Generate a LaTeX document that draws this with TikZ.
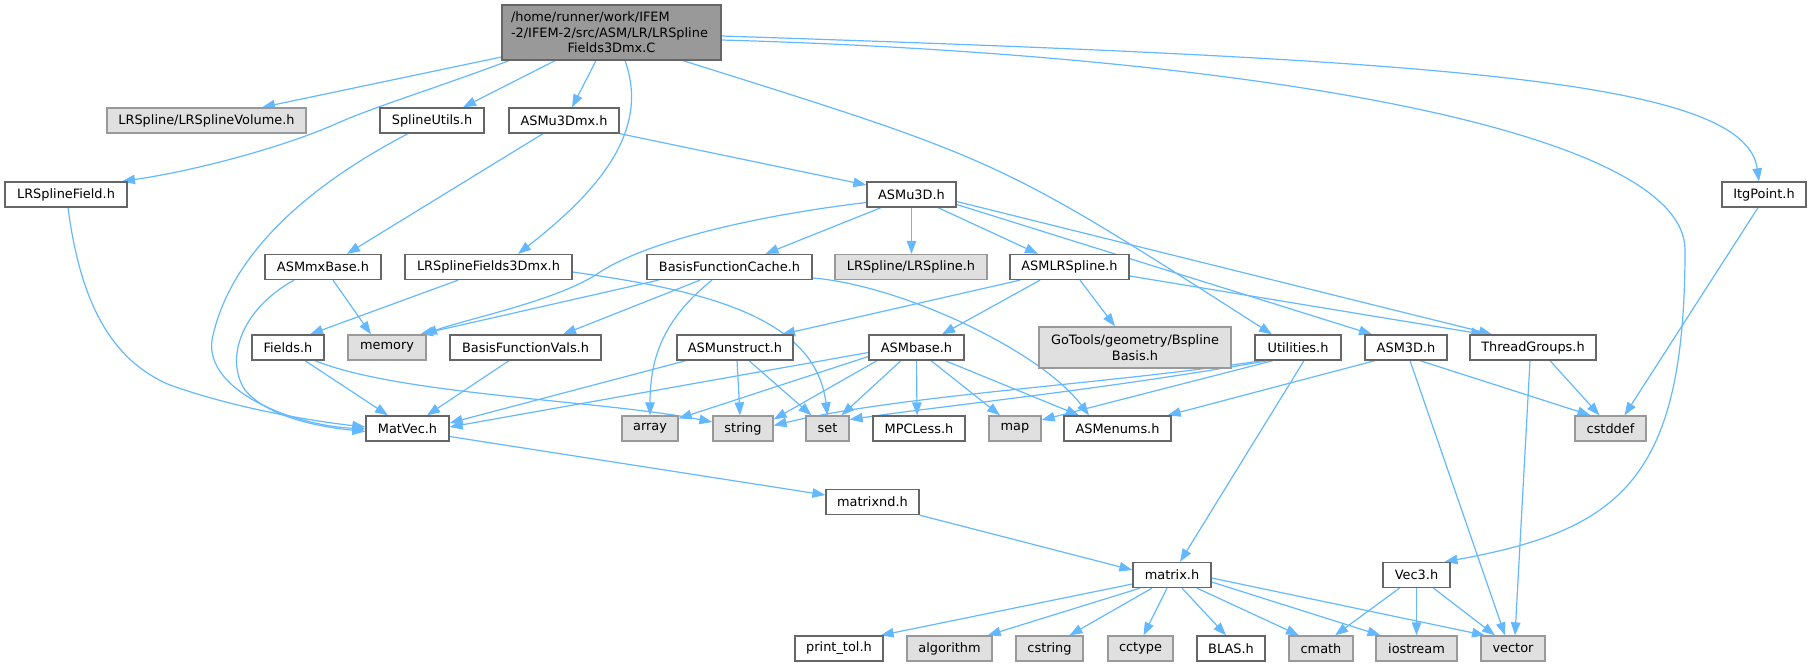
\documentclass[tikz,border=0pt]{standalone}
\usepackage{fontspec}
\setmainfont{DejaVu Sans}
\usetikzlibrary{arrows.meta,backgrounds}
\definecolor{edgec}{HTML}{63B8FF}
\definecolor{bord}{HTML}{666666}
\definecolor{extb}{HTML}{999999}
\definecolor{extf}{HTML}{E0E0E0}
\definecolor{mainf}{HTML}{999999}
\begin{document}
\begin{tikzpicture}[x=1pt,y=-1pt,
  box/.style={draw=bord, fill=white, line width=1.3pt, inner sep=0pt, minimum height=25pt,
    font=\fontsize{12.9}{15.5}\selectfont, text=black},
  ext/.style={box, draw=extb, fill=extf},
  edge/.style={draw=edgec, line width=1.2pt, -{Triangle[length=13pt,width=9.5pt]}}]
\useasboundingbox (0,0) rectangle (1812,667);

\node[box, fill=mainf, minimum width=219pt, minimum height=55pt, text width=201pt, align=left] (main) at (611.5,32.5)
  {/home/runner/work/IFEM\\-2/IFEM-2/src/ASM/LR/LRSpline\\\makebox[201pt]{Fields3Dmx.C}};
\node[ext, minimum width=199pt] (LRSV) at (206.5,120.5) {LRSpline/LRSplineVolume.h};
\node[box, minimum width=104pt] (SU) at (432,120.5) {SplineUtils.h};
\node[box, minimum width=110pt] (ASMu3Dmx) at (564,120.5) {ASMu3Dmx.h};
\node[box, minimum width=122pt] (LRSF) at (66,194.5) {LRSplineField.h};
\node[box, minimum width=89pt] (ASMu3D) at (911.5,194.5) {ASMu3D.h};
\node[box, minimum width=84pt] (Itg) at (1764,194.5) {ItgPoint.h};
\node[box, minimum width=116pt] (mxB) at (323,267) {ASMmxBase.h};
\node[box, minimum width=167pt] (LRSF3) at (488.5,267) {LRSplineFields3Dmx.h};
\node[box, minimum width=165pt] (BFC) at (729.5,267) {BasisFunctionCache.h};
\node[ext, minimum width=152pt] (LRS) at (911,267) {LRSpline/LRSpline.h};
\node[box, minimum width=119pt] (ASMLR) at (1069.5,267) {ASMLRSpline.h};
\node[box, minimum width=72pt] (Fields) at (288,347.5) {Fields.h};
\node[ext, minimum width=78pt] (memory) at (387,347.5) {memory};
\node[box, minimum width=151pt] (BFV) at (525.5,347.5) {BasisFunctionVals.h};
\node[box, minimum width=116pt] (unstr) at (735,347.5) {ASMunstruct.h};
\node[box, minimum width=95pt] (base) at (916.5,347.5) {ASMbase.h};
\node[ext, minimum width=192pt, minimum height=41pt, align=center] (GoT) at (1135,347.5) {GoTools/geometry/Bspline\\Basis.h};
\node[box, minimum width=86pt] (Util) at (1298,347.5) {Utilities.h};
\node[box, minimum width=82pt] (ASM3D) at (1406,347.5) {ASM3D.h};
\node[box, minimum width=126pt] (TG) at (1533,347.5) {ThreadGroups.h};
\node[box, minimum width=83pt] (MatVec) at (407.5,428.5) {MatVec.h};
\node[ext, minimum width=56pt] (array) at (650,428.5) {array};
\node[ext, minimum width=60pt] (string) at (743,428.5) {string};
\node[ext, minimum width=43pt] (set) at (827.5,428.5) {set};
\node[box, minimum width=92pt] (MPC) at (919,428.5) {MPCLess.h};
\node[ext, minimum width=52pt] (map) at (1015,428.5) {map};
\node[box, minimum width=107pt] (enums) at (1117.5,428.5) {ASMenums.h};
\node[ext, minimum width=71pt] (cstddef) at (1610.5,428.5) {cstddef};
\node[box, minimum width=93pt] (mnd) at (872.5,502) {matrixnd.h};
\node[box, minimum width=78pt] (matrix) at (1172,575) {matrix.h};
\node[box, minimum width=67pt] (Vec3) at (1416.5,575) {Vec3.h};
\node[box, minimum width=88pt] (ptol) at (839,648.5) {print\_tol.h};
\node[ext, minimum width=85pt] (algo) at (949.5,648.5) {algorithm};
\node[ext, minimum width=67pt] (cstring) at (1049.5,648.5) {cstring};
\node[ext, minimum width=65pt] (cctype) at (1140.5,648.5) {cctype};
\node[box, minimum width=68pt] (BLAS) at (1231,648.5) {BLAS.h};
\node[ext, minimum width=64pt] (cmath) at (1321,648.5) {cmath};
\node[ext, minimum width=81pt] (iostream) at (1416.5,648.5) {iostream};
\node[ext, minimum width=64pt] (vector) at (1513,648.5) {vector};

\begin{scope}[on background layer]
\draw[edge] ([yshift=-24.5pt]main.west) -- ([xshift=55.5pt]LRSV.north);
\draw[edge] ([xshift=-102.5pt]main.south) .. controls (430,90) and (380,105) .. (340,122) .. controls (290,145) and (200,170) .. ([xshift=56pt]LRSF.north);
\draw[edge] ([xshift=-56.5pt]main.south) -- ([xshift=31pt]SU.north);
\draw[edge] ([xshift=-15.5pt]main.south) -- ([xshift=8pt]ASMu3Dmx.north);
\draw[edge] ([xshift=13.5pt]main.south) .. controls (650,130) and (600,190) .. ([xshift=29.5pt]LRSF3.north);
\draw[edge] ([xshift=71.5pt]main.south) .. controls (1000,160) .. ([xshift=-26pt]Util.north);
\draw[edge] ([yshift=-7.5pt]main.east) .. controls (1250,55) and (1685,130) .. (1685,250) .. controls (1685,480) and (1620,530) .. ([xshift=28pt]Vec3.north);
\draw[edge] ([yshift=-3.5pt]main.east) .. controls (1450,60) and (1745,80) .. ([xshift=-5pt]Itg.north);

\draw[edge] ([xshift=-24pt]SU.south) .. controls (300,190) and (228,260) .. (212,340) .. controls (205,390) and (290,425) .. ([yshift=-0.5pt]MatVec.west);
\draw[edge] ([xshift=2pt]LRSF.south) .. controls (80,300) and (110,360) .. (170,385) .. controls (240,410) and (320,422) .. ([yshift=1.5pt]MatVec.west);
\draw[edge] ([xshift=-29pt]mxB.south) .. controls (240,310) and (225,360) .. (245,390) .. controls (270,420) and (330,428) .. ([yshift=-3pt]MatVec.west);

\draw[edge] ([xshift=-21pt]ASMu3Dmx.south) -- ([xshift=24pt]mxB.north);
\draw[edge] (ASMu3Dmx.south east) -- ([yshift=9.5pt]ASMu3D.west);
\draw[edge] ([xshift=10pt]mxB.south) -- ([xshift=-16pt]memory.north);
\draw[edge] ([xshift=-30.5pt]LRSF3.south) -- ([xshift=22pt]Fields.north);
\draw[edge] ([yshift=-5pt]LRSF3.east) .. controls (700,290) and (815,315) .. (set.north);
\draw[edge] ([xshift=-71pt]BFC.south) -- ([xshift=33pt]memory.north);
\draw[edge] ([yshift=-8pt]ASMu3D.west) .. controls (760,215) and (650,240) .. (600,272) .. controls (560,300) and (470,318) .. ([xshift=37pt]memory.north);
\draw[edge] ([xshift=-30.5pt]ASMu3D.south) -- ([xshift=36pt]BFC.north);
\draw[edge] (ASMu3D.south) -- (ASMu3D.south |- LRS.north);
\draw[edge] ([xshift=26.5pt]ASMu3D.south) -- ([xshift=-31.5pt]ASMLR.north);
\draw[edge] ([yshift=-10pt]ASMu3D.east) -- ([xshift=-34pt]ASM3D.north);
\draw[edge] ([yshift=-7pt]ASMu3D.east) -- ([xshift=-41pt]TG.north);
\draw[edge] ([yshift=-9pt]ASMLR.east) -- ([xshift=-49pt]TG.north);
\draw[edge] ([xshift=10.5pt]ASMLR.south) -- ([xshift=-20pt]GoT.north);
\draw[edge] ([xshift=-49.5pt]ASMLR.south) -- ([xshift=47pt]unstr.north);
\draw[edge] ([xshift=-29.5pt]ASMLR.south) -- ([xshift=25.5pt]base.north);
\draw[edge] ([xshift=-29.5pt]BFC.south) -- ([xshift=37.5pt]BFV.north);
\draw[edge] ([xshift=-17.5pt]BFC.south) .. controls (662,320) and (650,360) .. (array.north);
\draw[edge] ([yshift=-11pt]BFC.east) .. controls (900,285) and (1040,350) .. ([xshift=-28.5pt]enums.north);
\draw[edge] ([xshift=17pt]Fields.south) -- ([xshift=-19.5pt]MatVec.north);
\draw[edge] ([xshift=27pt]Fields.south) .. controls (400,395) and (600,400) .. ([yshift=6.5pt]string.west);
\draw[edge] ([xshift=-16.5pt]BFV.south) -- ([xshift=19.5pt]MatVec.north);
\draw[edge] ([xshift=-49pt]unstr.south) -- ([yshift=5.5pt]MatVec.east);
\draw[edge] ([xshift=2pt]unstr.south) -- ([xshift=-3pt]string.north);
\draw[edge] ([xshift=14pt]unstr.south) -- ([xshift=-16pt]set.north);
\draw[edge] ([yshift=-5pt]base.west) -- ([yshift=1.5pt]MatVec.east);
\draw[edge] ([yshift=-9pt]base.west) -- ([yshift=10pt]array.east);
\draw[edge] ([xshift=-39.5pt]base.south) -- ([yshift=9pt]string.east);
\draw[edge] ([xshift=-15.5pt]base.south) -- ([xshift=14pt]set.north);
\draw[edge] (base.south) -- ([xshift=-2pt]MPC.north);
\draw[edge] ([xshift=14.5pt]base.south) -- ([xshift=-15pt]map.north);
\draw[edge] ([xshift=28.5pt]base.south) -- ([xshift=-38.5pt]enums.north);
\draw[edge] ([xshift=-36pt]Util.south) .. controls (1100,385) and (900,395) .. ([yshift=3pt]string.east);
\draw[edge] ([xshift=-30pt]Util.south) .. controls (1100,390) and (950,405) .. ([yshift=9pt]set.east);
\draw[edge] ([xshift=-25pt]Util.south) -- ([yshift=8.5pt]map.east);
\draw[edge] ([xshift=6pt]Util.south) -- ([xshift=8pt]matrix.north);
\draw[edge] ([xshift=-31pt]ASM3D.south) -- ([xshift=-4pt]enums.north east);
\draw[edge] ([xshift=14pt]ASM3D.south) -- ([xshift=-20pt]cstddef.north);
\draw[edge] ([xshift=4pt]ASM3D.south) -- ([xshift=-8pt]vector.north);
\draw[edge] ([xshift=17pt]TG.south) -- ([xshift=-11pt]cstddef.north);
\draw[edge] ([xshift=-3pt]TG.south) -- ([xshift=2pt]vector.north);
\draw[edge] ([xshift=-6pt]Itg.south) -- ([xshift=14pt]cstddef.north);
\draw[edge] ([yshift=-8pt]MatVec.east) -- ([yshift=7pt]mnd.west);
\draw[edge] (mnd.south east) -- ([yshift=5pt]matrix.west);
\draw[edge] ([yshift=-9pt]matrix.west) -- ([xshift=-3pt]ptol.north east);
\draw[edge] ([xshift=-32pt]matrix.south) -- ([xshift=-5pt]algo.north east);
\draw[edge] ([xshift=-20pt]matrix.south) -- ([xshift=20pt]cstring.north);
\draw[edge] ([xshift=-5pt]matrix.south) -- ([xshift=3pt]cctype.north);
\draw[edge] ([xshift=10pt]matrix.south) -- ([xshift=-5pt]BLAS.north);
\draw[edge] ([xshift=25pt]matrix.south) -- ([xshift=-22pt]cmath.north);
\draw[edge] ([yshift=-7pt]matrix.east) -- ([xshift=-36pt]iostream.north);
\draw[edge] ([yshift=-3pt]matrix.east) -- ([xshift=-28pt]vector.north);
\draw[edge] ([xshift=-17pt]Vec3.south) -- ([xshift=14pt]cmath.north);
\draw[edge] (Vec3.south) -- (iostream.north);
\draw[edge] ([xshift=17pt]Vec3.south) -- ([xshift=-18pt]vector.north);
\end{scope}
\end{tikzpicture}
\end{document}
